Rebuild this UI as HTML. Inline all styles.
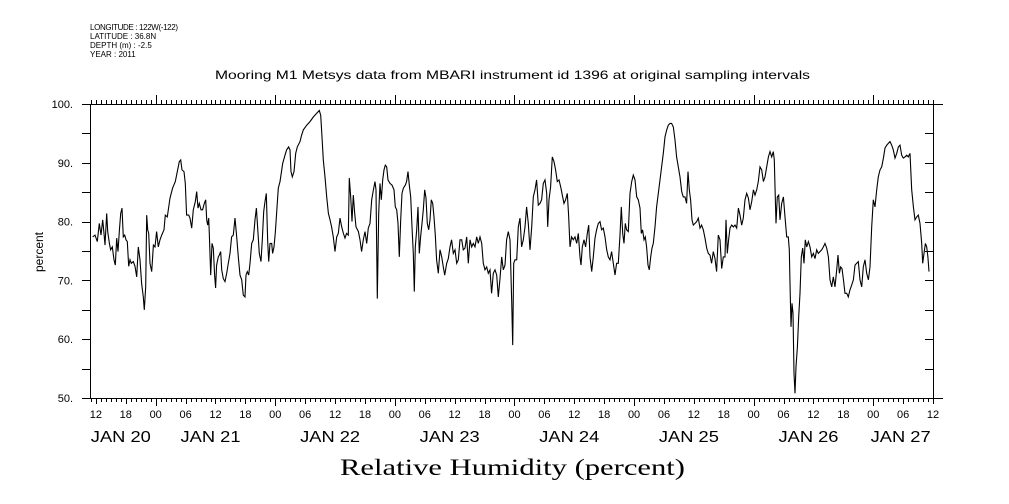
<!DOCTYPE html>
<html><head><meta charset="utf-8"><style>
body{margin:0;background:#fff;}
svg{display:block;font-family:"Liberation Sans",sans-serif;}
</style></head><body>
<svg id="chart" width="1009" height="504" viewBox="0 0 1009 504">
<g font-size="8" fill="#000">
<text x="90" y="30" textLength="88">LONGITUDE : 122W(-122)</text>
<text x="90" y="39">LATITUDE : 36.8N</text>
<text x="90" y="48">DEPTH (m) : -2.5</text>
<text x="90" y="57">YEAR : 2011</text>
</g>
<text x="215" y="79" textLength="595" lengthAdjust="spacingAndGlyphs" font-size="12">Mooring M1 Metsys data from MBARI instrument id 1396 at original sampling intervals</text>
<text transform="translate(43,252) rotate(-90)" text-anchor="middle" font-size="12">percent</text>
<text x="340" y="475" textLength="345" lengthAdjust="spacingAndGlyphs" font-size="23" font-family="Liberation Serif, serif">Relative Humidity (percent)</text>
<g id="axes"></g>
<g id="plot"></g>
</svg>
<script>
const yTicks=[50,60,70,80,90,100];
const yTickLabels=["50.","60.","70.","80.","90.","100."];
const hourLabels=["12","18","00","06","12","18","00","06","12","18","00","06","12","18","00","06","12","18","00","06","12","18","00","06","12","18","00","06","12"];
const dayLabels=["JAN 20","JAN 21","JAN 22","JAN 23","JAN 24","JAN 25","JAN 26","JAN 27"];
const dayLabelHours=[17,35,59,83,107,131,155,173.5];
const times=[11.35,11.82,12.29,12.69,13.02,13.36,13.63,13.83,14.16,14.36,14.7,14.96,15.3,15.63,15.9,16.17,16.43,16.7,16.97,17.24,17.5,17.77,18.04,18.31,18.58,18.84,19.11,19.51,19.85,20.18,20.51,20.85,21.18,21.52,21.72,21.99,22.19,22.39,22.59,22.86,23.19,23.53,23.86,24.19,24.53,24.86,25.2,25.67,25.93,26.33,26.87,27.4,27.94,28.34,28.74,29.01,29.28,29.68,29.95,30.21,30.62,30.88,31.22,31.55,31.95,32.22,32.49,32.76,33.09,33.42,33.76,34.03,34.23,34.43,34.63,34.76,35.03,35.3,35.57,35.83,36.03,36.23,36.57,36.77,37.04,37.24,37.57,37.91,38.24,38.58,38.91,39.24,39.58,39.91,40.25,40.58,40.92,41.25,41.58,41.92,42.12,42.39,42.66,42.92,43.26,43.59,43.93,44.2,44.46,44.8,45.13,45.4,45.67,45.93,46.2,46.47,46.67,46.94,47.27,47.47,47.74,48.01,48.27,48.61,48.94,49.48,49.95,50.28,50.68,50.95,51.15,51.42,51.75,52.09,52.42,52.96,53.29,53.62,54.3,54.97,55.64,56.3,56.84,57.11,57.37,57.64,57.98,58.31,58.65,58.98,59.31,59.65,59.98,60.32,60.65,60.99,61.32,61.66,61.99,62.32,62.66,62.86,63.13,63.39,63.66,63.93,64.2,64.67,65.0,65.33,65.67,66.0,66.34,66.67,67.01,67.34,67.68,68.01,68.21,68.48,68.75,69.01,69.28,69.55,69.82,70.08,70.35,70.62,71.02,71.42,71.82,72.09,72.36,72.63,72.89,73.16,73.43,73.7,74.1,74.36,74.63,74.9,75.17,75.43,75.7,75.9,76.1,76.37,76.64,76.91,77.17,77.44,77.71,77.98,78.24,78.51,78.78,79.05,79.31,79.58,79.85,80.12,80.38,80.72,81.05,81.39,81.72,81.99,82.39,82.73,83.06,83.39,83.73,84.06,84.4,84.73,85.07,85.4,85.74,86.07,86.41,86.74,87.07,87.41,87.74,88.08,88.41,88.75,89.08,89.42,89.75,90.08,90.42,90.75,91.09,91.42,91.76,92.09,92.43,92.76,93.09,93.43,93.76,94.1,94.43,94.77,95.1,95.44,95.64,95.84,96.1,96.44,96.77,97.11,97.44,97.78,98.11,98.44,98.78,99.11,99.45,99.78,100.12,100.45,100.79,101.12,101.45,101.79,102.12,102.46,102.66,102.93,103.26,103.6,103.93,104.26,104.6,104.93,105.27,105.6,105.94,106.27,106.6,106.87,107.14,107.47,107.81,108.14,108.48,108.81,109.15,109.35,109.62,109.95,110.28,110.62,110.89,111.15,111.49,111.82,112.16,112.49,112.83,113.16,113.49,113.83,114.16,114.5,114.83,115.17,115.5,115.84,116.17,116.5,116.84,117.17,117.44,117.71,117.98,118.24,118.51,118.85,119.18,119.52,119.85,120.18,120.52,120.85,121.19,121.45,121.72,121.99,122.26,122.52,122.79,123.06,123.33,123.6,123.86,124.2,124.53,124.87,125.2,125.53,125.87,126.2,126.54,126.87,127.21,127.54,127.88,128.21,128.54,128.88,129.21,129.55,129.88,130.22,130.55,130.82,131.09,131.35,131.62,131.89,132.22,132.56,132.89,133.23,133.56,133.9,134.23,134.57,134.9,135.23,135.57,135.9,136.24,136.57,136.91,137.24,137.58,137.91,138.24,138.45,138.71,138.98,139.26,139.59,139.93,140.26,140.59,140.93,141.26,141.6,141.93,142.27,142.6,142.94,143.27,143.6,143.94,144.27,144.61,144.94,145.28,145.61,145.95,146.28,146.61,146.95,147.28,147.62,147.95,148.15,148.29,148.49,148.75,149.02,149.29,149.62,149.96,150.29,150.63,150.96,151.16,151.3,151.5,151.7,151.9,152.1,152.3,152.5,152.77,153.04,153.3,153.57,153.84,154.11,154.37,154.64,154.98,155.31,155.64,155.98,156.31,156.65,156.98,157.32,157.65,157.99,158.32,158.65,158.99,159.32,159.66,159.99,160.33,160.66,160.93,161.2,161.46,161.73,162.0,162.33,162.67,163.0,163.34,163.67,164.01,164.34,164.68,165.01,165.34,165.68,166.01,166.35,166.68,167.02,167.35,167.68,168.02,168.35,168.69,169.02,169.36,169.69,170.03,170.36,170.7,171.03,171.36,171.7,172.03,172.37,172.7,173.04,173.37,173.71,174.04,174.37,174.71,175.04,175.38,175.71,176.05,176.38,176.72,177.05,177.38,177.72,177.92,178.19,178.46,178.72,178.96,179.19];
const humidity=[77.4,77.7,76.6,79.7,77.7,80.3,78.0,76.0,81.4,78.3,76.3,75.2,75.7,73.5,72.6,77.2,74.9,78.3,81.4,82.3,77.4,77.7,76.9,76.6,72.4,73.5,72.9,73.2,72.4,70.6,75.7,73.5,69.5,67.2,65.0,68.9,81.1,78.6,78.0,72.9,71.5,76.0,75.7,78.3,75.7,76.9,77.7,78.6,81.1,80.8,84.0,85.7,86.8,88.5,90.2,90.5,88.8,88.5,86.5,81.1,81.1,80.6,78.9,82.0,83.4,85.1,82.3,83.1,82.0,82.0,83.1,83.7,80.3,79.4,80.6,78.0,70.9,76.3,75.5,70.9,68.7,72.6,74.0,74.3,74.9,71.8,70.3,69.8,71.2,72.9,74.6,77.4,77.7,80.6,77.4,74.0,70.9,70.1,67.5,67.2,70.9,71.5,70.9,72.9,76.3,76.9,80.3,82.3,79.1,74.6,73.2,76.9,81.7,83.4,84.8,76.6,73.2,76.3,76.3,74.6,75.7,78.1,81.4,85.7,86.8,89.9,91.3,92.2,92.7,92.2,88.5,87.6,88.5,91.6,92.7,93.6,94.7,95.6,96.4,97.0,97.8,98.4,98.9,98.1,94.4,90.5,87.6,84.2,81.4,80.3,79.1,77.4,74.9,77.4,78.0,80.6,79.1,78.0,77.2,78.0,77.7,87.4,84.2,80.0,84.5,81.4,79.1,78.3,76.9,74.9,76.9,78.3,76.3,78.9,79.7,83.7,85.4,86.8,85.4,66.9,81.4,86.5,83.7,87.1,88.8,89.6,89.3,87.1,86.5,86.2,85.4,82.5,82.0,79.7,74.0,80.3,84.8,85.7,86.2,86.8,88.5,86.2,84.2,79.1,74.6,68.1,75.7,78.6,82.5,74.6,77.4,79.7,82.0,85.4,84.0,79.7,78.6,80.3,83.7,83.1,80.8,77.7,73.5,71.2,75.2,74.0,72.3,70.9,72.9,73.7,75.7,76.9,74.6,75.2,72.9,73.5,76.9,76.9,75.2,75.5,77.4,72.9,76.9,75.7,76.3,75.7,77.4,76.3,77.4,76.3,72.9,71.8,72.3,71.2,71.8,67.8,71.2,71.8,70.9,67.2,70.3,74.0,71.8,72.6,76.9,78.3,76.9,66.4,59.0,72.9,73.5,73.5,79.1,80.6,75.7,76.9,79.1,82.5,79.7,75.2,79.1,84.2,85.4,87.1,82.8,83.1,83.7,86.5,87.1,84.8,79.1,83.7,85.9,91.0,90.2,88.8,86.8,87.1,85.9,84.5,83.1,83.7,84.8,81.1,75.7,77.4,76.9,77.4,76.3,78.0,74.0,72.6,75.7,76.9,75.7,78.0,79.4,74.0,71.5,74.0,77.2,78.6,79.7,80.0,78.6,78.9,77.4,75.2,74.0,73.5,74.9,72.9,70.9,72.9,72.9,77.7,82.5,78.0,76.3,79.7,78.6,78.3,84.8,86.8,87.9,87.1,84.2,83.7,82.3,78.0,78.6,76.9,77.4,75.7,72.6,71.8,74.0,75.5,76.3,79.1,82.5,84.8,87.1,89.3,91.6,94.4,95.6,96.4,96.7,96.7,96.1,93.9,91.0,89.3,87.6,85.1,84.2,84.2,83.1,88.5,85.4,83.7,80.3,79.4,79.7,80.0,80.6,78.9,79.4,78.6,77.2,75.5,74.6,74.3,72.9,74.9,73.7,71.5,77.7,76.9,72.0,74.0,74.0,80.3,74.6,76.9,78.9,79.4,79.1,79.4,78.9,82.3,81.1,79.4,80.6,83.7,84.8,84.0,82.0,83.4,85.4,84.5,85.4,86.8,89.3,88.8,86.8,87.6,89.3,91.0,91.9,91.0,91.9,90.5,85.9,79.7,84.2,84.5,80.3,83.1,84.2,80.8,77.4,77.4,75.2,69.5,62.1,66.1,64.4,54.2,50.8,55.3,58.7,63.8,67.8,74.0,75.5,72.9,76.9,75.7,76.6,75.7,74.0,74.6,73.7,75.2,74.6,74.9,75.2,75.7,76.3,75.5,74.0,70.1,68.9,70.6,68.9,71.8,74.3,71.2,72.3,72.0,70.3,67.8,67.8,67.2,68.4,69.2,70.1,72.6,72.9,73.2,70.1,68.9,72.3,73.5,71.2,70.1,72.3,79.1,83.7,82.5,85.4,87.6,88.8,89.3,90.8,92.5,93.0,93.3,93.6,93.0,92.2,90.8,91.6,92.7,93.0,91.3,90.8,91.0,91.3,91.0,91.6,85.4,82.5,80.3,80.8,81.1,79.7,76.3,72.9,74.6,76.3,75.7,74.0,71.5];

const NS="http://www.w3.org/2000/svg";
const L=90,R=933,T=104,B=398;
function xs(h){return 95.9+(h-12)*4.983;}
function ys(v){return T+(100-v)*(B-T)/50;}
const axes=document.getElementById('axes');
const plot=document.getElementById('plot');
function ln(x1,y1,x2,y2,parent,name){
  const e=document.createElementNS(NS,'line');
  e.setAttribute('x1',x1);e.setAttribute('y1',y1);e.setAttribute('x2',x2);e.setAttribute('y2',y2);
  e.setAttribute('stroke','#000');e.setAttribute('stroke-width','1');e.setAttribute('shape-rendering','crispEdges');
  
  
  parent.appendChild(e);return e;
}
function tx(x,y,s,size,anchor,name){
  const e=document.createElementNS(NS,'text');
  e.setAttribute('x',x);e.setAttribute('y',y);e.setAttribute('font-size',size);e.setAttribute('text-anchor',anchor);
  e.textContent=s;
  
  
  axes.appendChild(e);return e;
}
const fr=document.createElementNS(NS,'rect');
fr.setAttribute('x',L+0.5);fr.setAttribute('y',T+0.5);fr.setAttribute('width',R-L);fr.setAttribute('height',B-T);
fr.setAttribute('fill','none');fr.setAttribute('stroke','#000');


axes.appendChild(fr);
for(let v=50;v<=100;v+=5){
  const y=Math.round(ys(v))+0.5;
  ln(82,y,L,y,axes,'y-tick-left');
  ln(R-8,y,(v===50||v===100)?943:R,y,axes,'y-tick-right');
}
yTicks.forEach((v,i)=>{tx(73,ys(v)+4,yTickLabels[i],11,'end','y-tick-label');});
for(let h=11;h<=180;h++){
  const x=Math.round(xs(h))+0.5;
  const major=(h%6===0), day=(h%24===0);
  ln(x,T-(day?9:4),x,T,axes,'x-tick-top');
  ln(x,B,x,B+(day?8:(major?6:4)),axes,'x-tick-bottom');
}
hourLabels.forEach((s,i)=>{const h=12+i*6;tx(xs(h),418,s,11,'middle','x-hour-label');});
dayLabels.forEach((s,i)=>{
  const t=tx(xs(dayLabelHours[i]),442,s,16,'middle','x-day-label');
  t.setAttribute('textLength','60');
  t.setAttribute('lengthAdjust','spacingAndGlyphs');
});
let d='';
times.forEach((h,i)=>{d+=(i?'L':'M')+xs(h).toFixed(1)+','+ys(humidity[i]).toFixed(1);});
const p=document.createElementNS(NS,'path');
p.setAttribute('d',d);p.setAttribute('fill','none');p.setAttribute('stroke','#000');p.setAttribute('stroke-width','1.1');


plot.appendChild(p);
</script>
</body></html>
